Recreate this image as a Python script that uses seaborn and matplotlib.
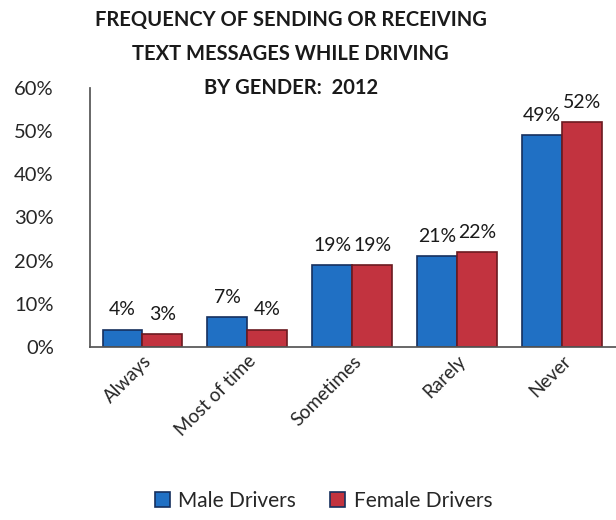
import pandas as pd
import matplotlib.pyplot as plt
import seaborn as sns

categories = ["Always", "Most of time", "Sometimes", "Rarely", "Never"]
male = [4, 7, 19, 21, 49]
female = [3, 4, 19, 22, 52]
series = ["Male Drivers", "Female Drivers"]

df = pd.DataFrame({
    "Frequency": categories * 2,
    "Driver": [series[0]] * len(categories) + [series[1]] * len(categories),
    "Percent": male + female,
})

sns.set_theme(style="white")
plt.rcParams['font.family'] = ['Lato', 'DejaVu Sans']

fig = plt.figure(figsize=(6.16, 5.2), dpi=100)
ax = fig.add_axes([0.146, 0.333, 0.86, 0.498])

sns.barplot(data=df, x="Frequency", y="Percent", hue="Driver",
            palette=["#2070c4", "#c2333f"], saturation=1, width=0.76,
            edgecolor="#16305e", linewidth=1.2, ax=ax, legend=True)

# darker edges for red bars
for bar in ax.containers[1]:
    bar.set_edgecolor("#6b1a20")

for cont in ax.containers:
    ax.bar_label(cont, labels=[f"{int(v)}%" for v in cont.datavalues],
                 padding=8, fontsize=14, color="#1a1a1a")

ax.set_ylim(0, 60)
ax.set_xlim(-0.5, 4.55)
ax.set_yticks(range(0, 61, 10))
ax.set_yticklabels([f"{v}%" for v in range(0, 61, 10)], fontsize=14.5)
ax.tick_params(axis="y", pad=26, length=0)
ax.tick_params(axis="x", length=0, pad=4)
ax.set_xticks(range(len(categories)))
ax.set_xticklabels(categories, rotation=45, ha="right", rotation_mode="anchor",
                   fontsize=13.5)
ax.set_xlabel("")
ax.set_ylabel("")

for s in ["top", "right"]:
    ax.spines[s].set_visible(False)
ax.spines["left"].set_color("#555555")
ax.spines["bottom"].set_color("#555555")

# title, one line each so the spacing matches
title_lines = ["FREQUENCY OF SENDING OR RECEIVING", "TEXT MESSAGES WHILE DRIVING",
               "BY GENDER:  2012"]
for i, line in enumerate(title_lines):
    fig.text(0.472, 1 - (20 + 34 * i) / 520, line, ha="center", va="center",
             fontsize=14.5, fontweight="bold", color="#1a1a1a")

handles, labels = ax.get_legend_handles_labels()
ax.legend_.remove()
fig.legend(handles, labels, loc="lower center", bbox_to_anchor=(0.525, -0.018),
           ncol=2, frameon=False, fontsize=15, handlelength=0.75, handleheight=0.75,
           columnspacing=1.6, handletextpad=0.4)

plt.savefig("out.png", dpi=100)
